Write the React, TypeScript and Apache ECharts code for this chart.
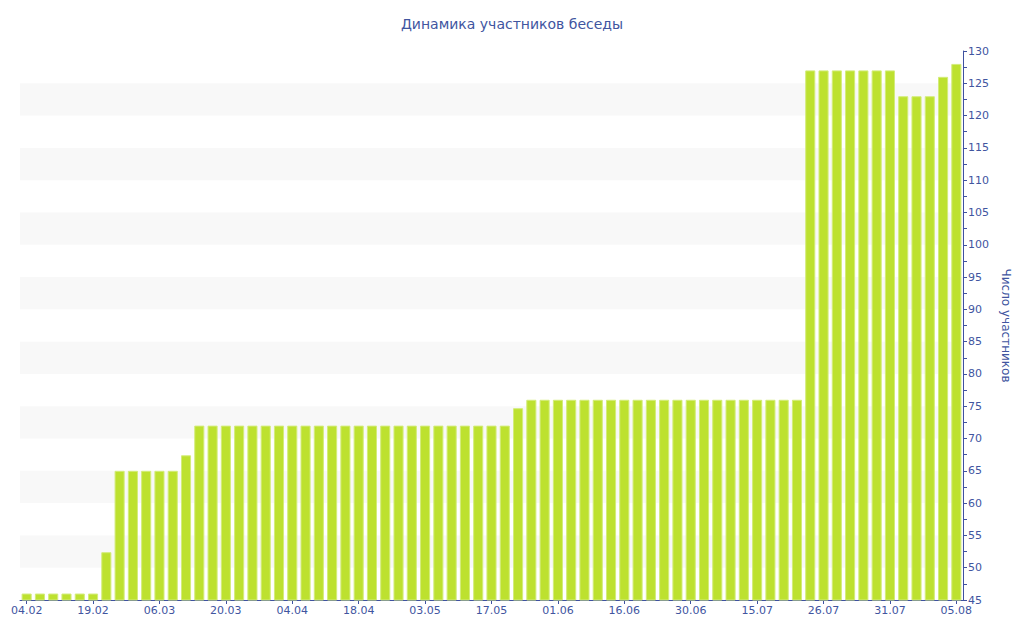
import React, { useEffect, useRef } from "react";
import * as echarts from "echarts";

const categories: string[] = [
  "04.02", "07.02", "10.02", "13.02", "16.02",
  "19.02", "22.02", "25.02", "28.02", "03.03",
  "06.03", "09.03", "12.03", "14.03", "17.03",
  "20.03", "23.03", "26.03", "29.03", "01.04",
  "04.04", "07.04", "10.04", "13.04", "15.04",
  "18.04", "21.04", "24.04", "27.04", "30.04",
  "03.05", "06.05", "09.05", "12.05", "14.05",
  "17.05", "20.05", "23.05", "26.05", "29.05",
  "01.06", "04.06", "07.06", "10.06", "13.06",
  "16.06", "19.06", "22.06", "25.06", "27.06",
  "30.06", "03.07", "06.07", "09.07", "12.07",
  "15.07", "17.07", "19.07", "22.07", "24.07",
  "26.07", "27.07", "28.07", "29.07", "30.07",
  "31.07", "01.08", "02.08", "03.08", "04.08",
  "05.08",
];

const members: number[] = [
  46, 46, 46, 46, 46, 46, 52.4, 65, 65, 65,
  65, 65, 67.4, 72, 72, 72, 72, 72, 72, 72,
  72, 72, 72, 72, 72, 72, 72, 72, 72, 72,
  72, 72, 72, 72, 72, 72, 72, 74.7, 76, 76,
  76, 76, 76, 76, 76, 76, 76, 76, 76, 76,
  76, 76, 76, 76, 76, 76, 76, 76, 76, 127,
  127, 127, 127, 127, 127, 127, 123, 123, 123, 126,
  128,
];

const title = "Динамика участников беседы";
const yAxisName = "Число участников";

const TEXT = "#41559f";
const AXIS = "#3f51a0";
const FONT = "DejaVu Sans";

export default function App() {
  const ref = useRef<HTMLDivElement>(null);
  useEffect(() => {
    if (!ref.current) return;
    const chart = echarts.init(ref.current, undefined, { renderer: "svg" });
    chart.setOption({
      animation: false,
      backgroundColor: "#ffffff",
      textStyle: { fontFamily: FONT },
      title: {
        text: title,
        left: "center",
        top: 12,
        textStyle: { color: TEXT, fontSize: 14, fontWeight: "normal", fontFamily: FONT },
      },
      grid: { left: 20, right: 61, top: 51, bottom: 40 },
      xAxis: {
        type: "category",
        data: categories,
        boundaryGap: true,
        axisLine: { lineStyle: { color: AXIS, width: 1 } },
        axisTick: { show: true, interval: 4, alignWithLabel: true, length: 4, lineStyle: { color: AXIS } },
        axisLabel: { interval: 4, color: TEXT, fontSize: 11, fontFamily: FONT, margin: 5 },
        splitLine: { show: false },
      },
      yAxis: {
        type: "value",
        position: "right",
        min: 45,
        max: 130,
        interval: 5,
        name: yAxisName,
        nameLocation: "middle",
        nameRotate: -90,
        nameGap: 36,
        nameTextStyle: { color: TEXT, fontSize: 12, fontFamily: FONT },
        axisLine: { show: true, lineStyle: { color: AXIS, width: 1 } },
        axisTick: { show: true, length: 4, lineStyle: { color: AXIS } },
        minorTick: { show: true, splitNumber: 2, length: 4, lineStyle: { color: AXIS } },
        axisLabel: { color: TEXT, fontSize: 11, fontFamily: FONT, margin: 5 },
        splitLine: { show: false },
        splitArea: { show: true, areaStyle: { color: ["rgba(255,255,255,0)", "#f8f8f8"] } },
      },
      series: [
        {
          type: "bar",
          data: members,
          barCategoryGap: "24%",
          itemStyle: { color: "#bde12f", borderColor: "#d3ec7a", borderWidth: 1 },
        },
      ],
    });
    return () => chart.dispose();
  }, []);
  return <div ref={ref} style={{ width: 1024, height: 640, position: "absolute", left: 0, top: 0 }} />;
}
